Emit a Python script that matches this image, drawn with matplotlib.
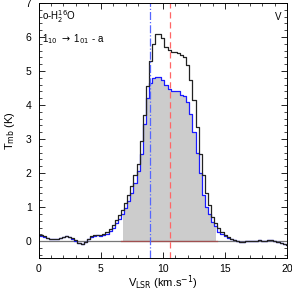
import numpy as np
import matplotlib
matplotlib.use("Agg")
import matplotlib.pyplot as plt
from matplotlib.ticker import MultipleLocator

plt.rcParams['font.family'] = ['Liberation Sans', 'DejaVu Sans']

# channel velocities (km/s), 0.25 km/s channels
vel = np.arange(0, 20.001, 0.25)

# total spectrum (black)
t_total = [0.18, 0.17, 0.14, 0.10, 0.07, 0.06, 0.07, 0.10, 0.13, 0.15,
           0.12, 0.08, 0.02, -0.05, -0.08, -0.03, 0.06, 0.14, 0.18, 0.19,
           0.18, 0.20, 0.26, 0.36, 0.48, 0.62, 0.76, 0.92, 1.12, 1.36,
           1.62, 1.95, 2.28, 2.95, 3.70, 4.55, 5.30, 5.80, 6.08, 6.10,
           5.97, 5.70, 5.62, 5.57, 5.57, 5.52, 5.47, 5.40, 5.18, 4.73,
           4.15, 3.35, 2.55, 1.95, 1.40, 1.05, 0.72, 0.52, 0.40, 0.28,
           0.18, 0.12, 0.07, 0.03, 0.01, -0.02, -0.02, 0.00, 0.01, -0.01,
           0.01, 0.02, 0.00, 0.01, 0.02, 0.02, 0.01, -0.02, -0.06, -0.08,
           -0.10]

# component spectrum (blue)
t_comp = [0.17, 0.16, 0.13, 0.09, 0.06, 0.05, 0.06, 0.09, 0.12, 0.14,
          0.11, 0.07, 0.01, -0.06, -0.09, -0.04, 0.05, 0.12, 0.16, 0.17,
          0.16, 0.18, 0.22, 0.30, 0.40, 0.52, 0.65, 0.80, 0.98, 1.18,
          1.42, 1.72, 2.05, 2.55, 3.45, 4.20, 4.65, 4.80, 4.83, 4.82,
          4.73, 4.60, 4.47, 4.42, 4.42, 4.40, 4.30, 4.25, 4.10, 3.75,
          3.20, 2.60, 2.00, 1.35, 1.00, 0.80, 0.56, 0.44, 0.27, 0.20,
          0.15, 0.10, 0.05, 0.02, 0.00, -0.02, -0.02, 0.00, 0.01, -0.01,
          0.01, 0.02, 0.00, 0.01, 0.02, 0.02, 0.01, -0.02, -0.06, -0.08,
          -0.10]

fill_range = (6.75, 14.25)
v_blue = 8.95
v_red = 10.55

t_total = np.array(t_total)
t_comp = np.array(t_comp)

fig = plt.figure(figsize=(2.92, 2.92), dpi=100)
ax = fig.add_axes([0.132, 0.116, 0.852, 0.874])

mask = (vel >= fill_range[0]) & (vel <= fill_range[1])
ax.fill_between(vel, 0, t_comp, where=mask, step='mid', color='#cccccc', lw=0)
ax.axhline(0, color='#777777', lw=0.9)
ax.plot([fill_range[0] - 0.125, fill_range[1] + 0.125], [0, 0], color='#a05050', lw=0.9)
ax.step(vel, t_comp, where='mid', color='#1a1aff', lw=0.9)
ax.step(vel, t_total, where='mid', color='#222222', lw=0.9)
ax.axvline(v_blue, color='#5566ff', lw=0.9, ls='-.')
ax.axvline(v_red, color='#ff6666', lw=0.9, ls=(0, (5, 3)))

ax.set_xlim(0, 20)
ax.set_ylim(-0.5, 7)
ax.xaxis.set_major_locator(MultipleLocator(5))
ax.xaxis.set_minor_locator(MultipleLocator(1))
ax.yaxis.set_major_locator(MultipleLocator(1))
ax.yaxis.set_minor_locator(MultipleLocator(0.2))
ax.tick_params(which='both', direction='in', top=True, right=True, labelsize=7.5)
ax.tick_params(axis='x', pad=4)
ax.tick_params(axis='y', pad=5)
ax.tick_params(which='major', length=4, width=0.6)
ax.tick_params(which='minor', length=2, width=0.5)
for s in ax.spines.values():
    s.set_linewidth(0.7)

ax.set_xlabel(r'V$_{\rm LSR}$ (km.s$^{-1}$)', fontsize=8, labelpad=0)
ax.set_ylabel(r'T$_{\rm mb}$ (K)', fontsize=8, labelpad=6)

ax.text(0.25, 6.5, r'o-H$_2^{16}$O', fontsize=7)
ax.text(0.25, 5.85, r'1$_{10}$ $\rightarrow$ 1$_{01}$ - a', fontsize=7)
ax.text(19.0, 6.5, 'V', fontsize=7)

fig.savefig('out.png', dpi=100)
